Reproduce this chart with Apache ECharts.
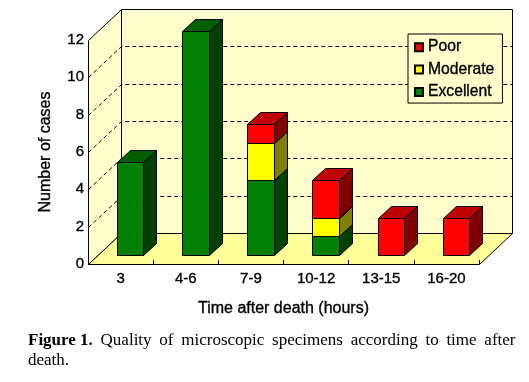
<!DOCTYPE html>
<html><head><meta charset="utf-8">
<style>html,body{margin:0;padding:0;background:#fff}#c{width:529px;height:382px}</style>
<script src="https://cdn.jsdelivr.net/npm/echarts@6/dist/echarts.min.js"></script>
</head><body><div id="c"></div>
<script>
const categories = ['3','4-6','7-9','10-12','13-15','16-20'];
const excellent = [5,12,4,1,0,0];
const moderate = [0,0,2,1,0,0];
const poor = [0,0,1,2,2,2];
const gridValues = [2,4,6,8,10];
const captionWords = ['Quality','of','microscopic','specimens','according','to','time','after'];
const SANS = '"Liberation Sans", Arial, sans-serif';
const SERIF = '"Liberation Serif", "Times New Roman", serif';
const WALL = [33,-31], BAR_FRONT = [9.5,-9], BAR_DEPTH = [13,-12], BAR_W = 26.5;
const px = v => Math.round(v) + 0.5;
const pt = (p, off) => [px(p[0] + off[0]), px(p[1] + off[1])];
const BLACK = {stroke:'#000', lineWidth:1};
const HEAVY = {textBorderColor:'#000', textBorderWidth:0.35};

function wallItem(params, api) {
  const n = categories.length;
  const a = api.coord([0,0]), step = api.size([1,0])[0];
  const y12 = api.coord([0,12])[1];
  const L = a[0] - step/2, R = L + step*n, B = a[1], T = y12;
  const z = [0,0];
  const fl=pt([L,B],z), fr=pt([R,B],z), tl=pt([L,T],z);
  const bl=pt([L,B],WALL), br=pt([R,B],WALL), tlb=pt([L,T],WALL), trb=pt([R,T],WALL);
  const ch = [];
  ch.push({type:'polygon',shape:{points:[tlb,trb,br,bl]},style:{fill:'#ffffcc',...BLACK}});
  ch.push({type:'polygon',shape:{points:[tl,tlb,bl,fl]},style:{fill:'#ffffcc',...BLACK}});
  ch.push({type:'polygon',shape:{points:[fl,bl,br,fr]},style:{fill:'#ffff99',...BLACK}});
  gridValues.forEach(v => {
    const y = api.coord([0,v])[1];
    const p0 = pt([L,y],z), p1 = pt([L,y],WALL), p2 = pt([R,y],WALL);
    ch.push({type:'polyline',shape:{points:[p0,p1,p2]},style:{fill:null,stroke:'#000',lineWidth:1,lineDash:[4,3]}});
  });
  return {type:'group',children:ch};
}

function barItem(params, api) {
  const i = api.value(0), lo = api.value(1), hi = api.value(2);
  if (hi <= lo) return null;
  const col = palette[params.seriesName];
  const p0 = api.coord([i,lo]), p1 = api.coord([i,hi]);
  const xl = p0[0] + BAR_FRONT[0] - BAR_W/2, xr = xl + BAR_W;
  const yb = p0[1] + BAR_FRONT[1], yt = p1[1] + BAR_FRONT[1];
  const z=[0,0];
  const a=pt([xl,yb],z), b=pt([xr,yb],z), t=pt([xr,yt],z), d=pt([xl,yt],z);
  const e=pt([xr,yb],BAR_DEPTH), f=pt([xr,yt],BAR_DEPTH), g=pt([xl,yt],BAR_DEPTH);
  return {type:'group',children:[
    {type:'polygon',shape:{points:[b,e,f,t]},style:{fill:col[1],...BLACK}},
    {type:'polygon',shape:{points:[d,t,f,g]},style:{fill:col[2],...BLACK}},
    {type:'polygon',shape:{points:[a,b,t,d]},style:{fill:col[0],...BLACK}}
  ]};
}
const palette = {
  Excellent:['#008000','#004000','#006000'],
  Moderate:['#ffff00','#808000','#bfbf00'],
  Poor:['#ff0000','#800000','#bf0000']
};
function stackData(values, below) {
  return values.map((v,i) => { const b = below.reduce((s,a)=>s+a[i],0); return [i,b,b+v]; });
}
function barSeries(name, values, below, z) {
  return {name, type:'custom', renderItem:barItem, z,
    data:stackData(values,below), encode:{x:0,y:2}, silent:true,
    itemStyle:{color:palette[name][0],borderColor:'#000',borderWidth:1}};
}
const captionLine = '{b|Figure 1.}{s| }' + captionWords.map(w => '{n|'+w+'}').join('{s| }');
const serifStyle = {fontFamily:SERIF,fontWeight:'normal',fontSize:17,lineHeight:20,color:'#000'};
const chart = echarts.init(document.getElementById('c'),null,{renderer:'canvas'});
chart.setOption({
  animation:false,
  backgroundColor:'#fff',
  title:{
    left:28, top:331, padding:0, itemGap:0,
    text:captionLine+'\n{n|death.}',
    textStyle:{rich:{
      b:{...serifStyle,fontWeight:'bold'},
      n:serifStyle,
      s:{...serifStyle,fontSize:31}
    }}
  },
  grid:{left:88,right:50,top:40,bottom:118,containLabel:false},
  legend:{
    orient:'vertical', left:408, top:34, padding:[5,8,3,6], itemGap:6,
    itemWidth:8,itemHeight:8,icon:'rect',
    backgroundColor:'#ffffcc',borderColor:'#000',borderWidth:1,
    selectedMode:false,
    data:['Poor','Moderate','Excellent'],
    textStyle:{fontFamily:SANS,fontSize:15.7,color:'#000',...HEAVY}
  },
  xAxis:{type:'category',data:categories,boundaryGap:true,
    name:'Time after death (hours)',nameLocation:'middle',nameGap:37,
    nameTextStyle:{fontFamily:SANS,fontSize:16,color:'#000',...HEAVY},
    axisLine:{show:false},
    axisTick:{show:true,inside:true,length:4,alignWithLabel:false,lineStyle:{color:'#000'}},
    axisLabel:{fontFamily:SANS,fontSize:15,color:'#000',margin:7,interval:0,...HEAVY},
    splitLine:{show:false},z:5},
  yAxis:{type:'value',min:0,max:12,interval:2,
    name:'Number of cases',nameLocation:'middle',nameGap:34,
    nameTextStyle:{fontFamily:SANS,fontSize:16,color:'#000',...HEAVY},
    axisLine:{show:false},axisTick:{show:false},
    axisLabel:{fontFamily:SANS,fontSize:15,color:'#000',margin:4,...HEAVY},
    splitLine:{show:false}},
  series:[
    {type:'custom',name:'walls',renderItem:wallItem,data:[[0,0]],encode:{x:0,y:1},silent:true,z:1},
    barSeries('Excellent',excellent,[],2),
    barSeries('Moderate',moderate,[excellent],2),
    barSeries('Poor',poor,[excellent,moderate],2)
  ]
});
</script></body></html>
